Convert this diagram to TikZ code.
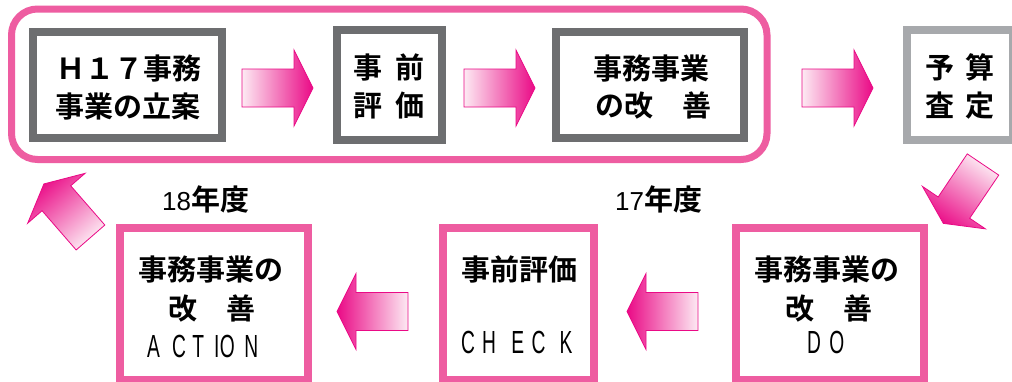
\documentclass[tikz,border=0pt]{standalone}
\usepackage{fontspec}
\newfontfamily\cjk{Noto Sans CJK JP}[UprightFont=* Bold]
\newfontfamily\lat{Liberation Sans}
\newfontfamily\latc{Liberation Sans}[FakeStretch=0.6]
\definecolor{boxgray}{HTML}{6D6E70}
\definecolor{lightgray}{HTML}{A7A9AC}
\definecolor{framepink}{HTML}{EE5DA1}
\definecolor{arrowmag}{HTML}{EA0A86}
\definecolor{arrowlight}{HTML}{FDEAF3}
\tikzset{
  frame/.style={line width=8pt, fill=white, inner sep=0pt, outer sep=0pt},
  grayframe/.style={frame, draw=boxgray},
  lgframe/.style={frame, draw=lightgray},
  pinkframe/.style={frame, draw=framepink},
  planframe/.style={draw=framepink, line width=7pt, inner sep=0pt, rounded corners=26pt},
  jp/.style={font=\cjk\fontsize{29}{35}\selectfont, inner sep=0pt},
  abc/.style={font=\latc\fontsize{32}{38}\selectfont, inner sep=0pt, anchor=base west},
  yr/.style={inner sep=0pt, anchor=base west},
  blockarrow/.style={draw=arrowmag, line width=0.8pt, top color=arrowmag, bottom color=arrowlight}
}
\newcommand\blockarr[4]{% tail x, tail y, direction, shading angle
  \begin{scope}[shift={(#1,#2)}, rotate=#3]
    \path[blockarrow, shading angle=#4] (0,-19) -- (52,-19) -- (52,-38) -- (71,0) -- (52,38) -- (52,19) -- (0,19) -- cycle;
  \end{scope}}
\begin{document}
\begin{tikzpicture}[x=1pt,y=1pt]
\useasboundingbox (0,0) rectangle (1012,-381);
\clip (0,0) rectangle (1012,-381);
\fill[white] (0,0) rectangle (1012,-381);

% plan group
\node[planframe, minimum width=755.5pt, minimum height=150.5pt] (plan) at (389.25,-84.25) {};

% upper boxes
\node[grayframe, minimum width=189pt, minimum height=106pt] (b1) at (127.5,-85) {};
\node[grayframe, minimum width=105pt, minimum height=110pt] (b2) at (389.5,-85) {};
\node[grayframe, minimum width=188pt, minimum height=106pt] (b3) at (650,-85) {};
\node[lgframe, minimum width=106pt, minimum height=110pt] (b4) at (960,-85) {};

% lower boxes
\node[pinkframe, minimum width=188pt, minimum height=152pt] (act) at (214,-304) {};
\node[pinkframe, minimum width=151pt, minimum height=152pt] (chk) at (518.5,-304) {};
\node[pinkframe, minimum width=188pt, minimum height=152pt] (do) at (830,-304) {};

% texts upper
\node[jp] (t1a) at (128.5,-69) {Ｈ１７事務};
\node[jp] (t1b) at (127.5,-106.5) {事業の立案};
\node[jp] (t2a) at (389,-67.5) {事\hspace{14pt}前};
\node[jp] (t2b) at (389,-106) {評\hspace{14pt}価};
\node[jp] (t3a) at (651.5,-68.5) {事務事業};
\node[jp] (t3b) at (653,-106) {の改　善};
\node[jp] (t4a) at (960,-67.5) {予\hspace{12pt}算};
\node[jp] (t4b) at (960,-105.5) {査\hspace{12pt}定};

% texts lower
\node[jp] (t5a) at (211,-270) {事務事業の};
\node[jp] (t5b) at (211.5,-309) {改　善};
\node[abc] (t5c) at (147,-357) {A\hspace{12.2pt}C\hspace{6.2pt}T\hspace{10.2pt}I\hspace{0.3pt}O\hspace{9.6pt}N};
\node[jp] (t6a) at (519.5,-269) {事前評価};
\node[abc] (t6c) at (461,-353) {C\hspace{7.2pt}H\hspace{15.2pt}E\hspace{7.4pt}C\hspace{14.2pt}K};
\node[jp] (t7a) at (826.5,-270) {事務事業の};
\node[jp] (t7b) at (828.5,-309) {改　善};
\node[abc] (t7c) at (807,-353) {D\hspace{8.2pt}O};

% year labels
\node[yr] (y18) at (162,-210) {{\lat\fontsize{26}{30}\selectfont 18}{\cjk\fontsize{29}{35}\selectfont 年度}};
\node[yr] (y17) at (615,-210) {{\lat\fontsize{26}{30}\selectfont 17}{\cjk\fontsize{29}{35}\selectfont 年度}};

% block arrows
\blockarr{242}{-88}{0}{-90}
\blockarr{464}{-88}{0}{-90}
\blockarr{802}{-88}{0}{-90}
\blockarr{983}{-164.5}{236}{146}
\blockarr{698}{-311.5}{180}{90}
\blockarr{408}{-311.5}{180}{90}
\blockarr{90.5}{-237.5}{131}{41}
\end{tikzpicture}
\end{document}
